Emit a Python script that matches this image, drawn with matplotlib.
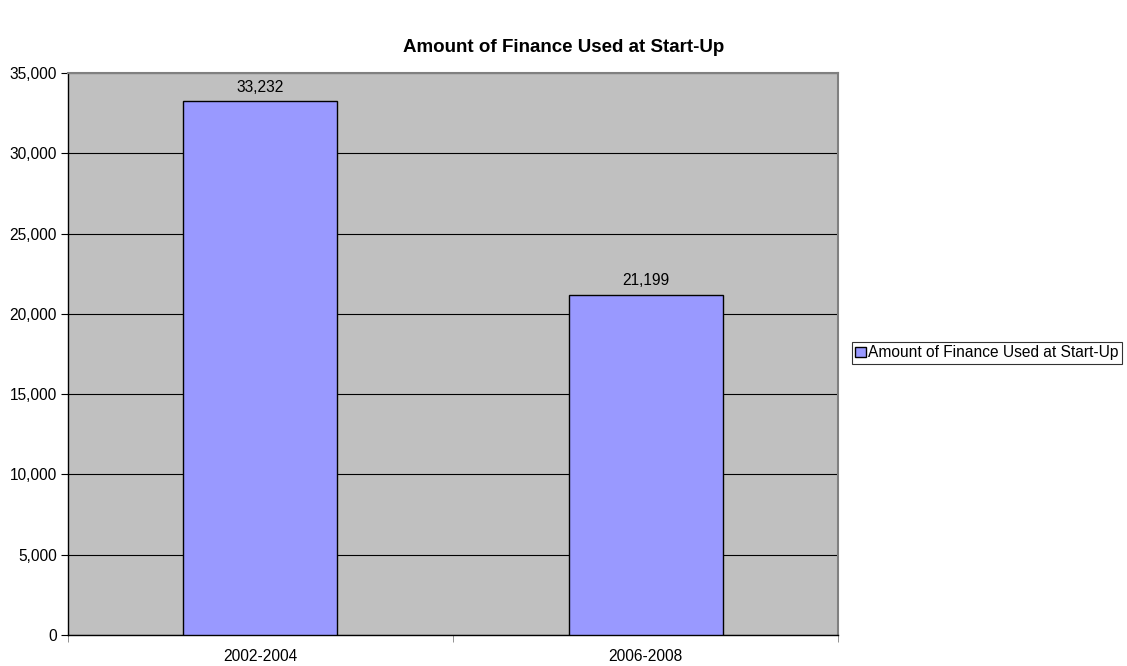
import matplotlib
matplotlib.use("Agg")
import matplotlib.pyplot as plt
from matplotlib.ticker import FuncFormatter

categories = ["2002-2004", "2006-2008"]
values = [33232, 21199]
series_name = "Amount of Finance Used at Start-Up"
title = "Amount of Finance Used at Start-Up"

plt.rcParams["font.family"] = ["Liberation Sans", "DejaVu Sans"]
FS = 11.2

fig = plt.figure(figsize=(11.27, 6.66), dpi=100)
ax = fig.add_axes([0.0603, 0.0465, 0.6833, 0.8438])
ax.set_facecolor("#C0C0C0")

x = list(range(len(categories)))
bars = ax.bar(x, values, width=0.4, color="#9999FF", edgecolor="black",
              linewidth=1.0, label=series_name, zorder=3)

ax.set_xlim(-0.5, len(categories) - 0.5)
ax.set_ylim(0, 35000)
ax.set_yticks(range(0, 35001, 5000))
ax.yaxis.set_major_formatter(FuncFormatter(lambda v, p: f"{int(v):,}"))
ax.grid(axis="y", color="black", linewidth=0.8, zorder=1)
ax.set_axisbelow(True)

# category labels centred, ticks at category boundaries
ax.set_xticks(x)
ax.set_xticklabels(categories)
ax.tick_params(axis="x", which="major", length=0, pad=10, labelsize=FS)
ax.set_xticks([i - 0.5 for i in range(len(categories) + 1)], minor=True)
ax.tick_params(axis="x", which="minor", length=5, direction="out", color="#808080")
ax.tick_params(axis="y", length=5, direction="out", labelsize=FS, pad=3)

for side in ("top", "right"):
    ax.spines[side].set_color("#808080")
    ax.spines[side].set_linewidth(1.5)
for side in ("left", "bottom"):
    ax.spines[side].set_color("black")
    ax.spines[side].set_linewidth(1.0)

for b, v in zip(bars, values):
    ax.annotate(f"{v:,}", (b.get_x() + b.get_width() / 2, v),
                xytext=(0, 5), textcoords="offset points",
                ha="center", va="bottom", fontsize=FS)

fig.text(0.5, 0.929, title, ha="center", va="center",
         fontsize=13.5, fontweight="bold")

leg = fig.legend(handles=[bars], labels=[series_name],
                 loc="center left", bbox_to_anchor=(0.756, 0.47),
                 fontsize=FS, frameon=True, fancybox=False,
                 borderpad=0.2, handlelength=0.7, handleheight=0.7,
                 handletextpad=0.15, borderaxespad=0)
leg.get_frame().set_edgecolor("black")
leg.get_frame().set_linewidth(0.8)

fig.savefig("out.png", dpi=100)
